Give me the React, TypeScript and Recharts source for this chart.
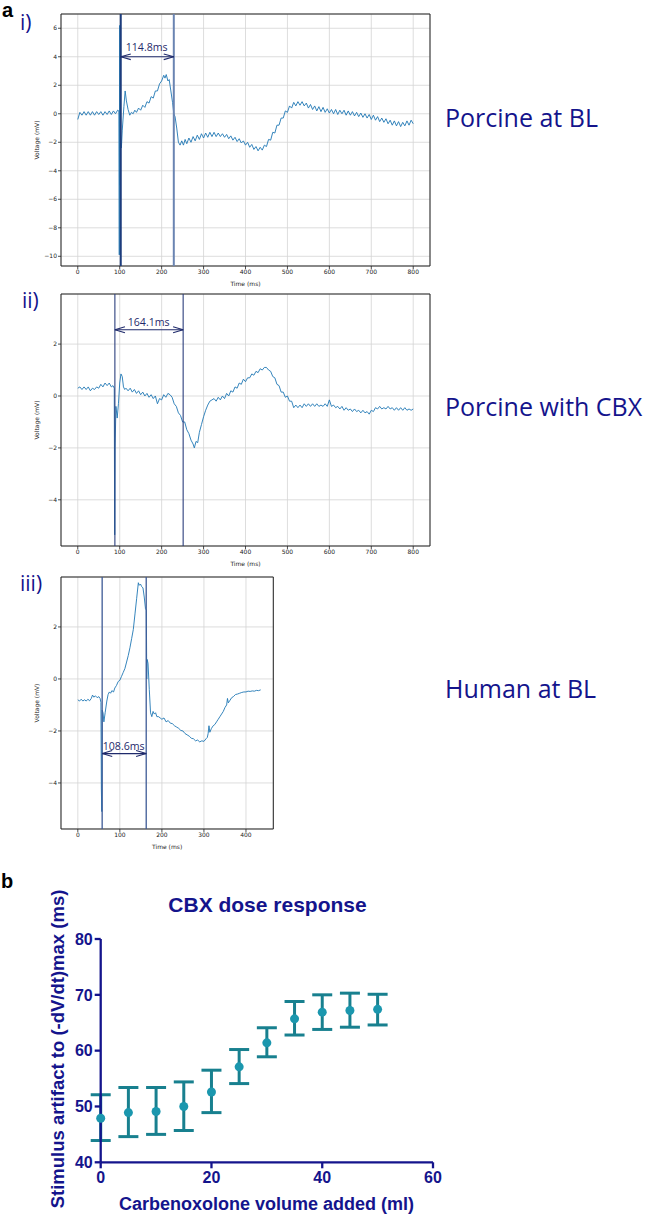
import React from 'react';
import {
  LineChart, Line, XAxis, YAxis, CartesianGrid, ReferenceLine, ReferenceArea,
  ScatterChart, Scatter, ErrorBar,
} from 'recharts';

const NAVY = '#14148c';
const TRACE = '#1f77b4';
const MPL_FONT = 'DejaVu Sans';

// ---- a) voltage traces, [time ms, voltage mV] ----
const porcineBL: [number, number][] = [
  [0,-0.4],[5,0.1],[10,-0.1],[15,0.15],[20,-0.1],[25,0.15],[30,-0.1],[35,0.15],[40,-0.1],[45,0.15],
  [50,-0.05],[55,0.15],[60,-0.1],[65,0.15],[70,-0.05],[75,0.2],[80,-0.05],[85,0.2],[90,0],[95,0.25],
  [98,0.2],[99,-9.9],[100,6.2],[101,-5],[102,-1.5],[104,-2.4],[106,-1.2],[110,0.5],[113,1.6],[116,0.9],
  [120,0.3],[124,-0.1],[128,0.1],[132,0],[136,0.25],[140,0.1],[145,0.4],[150,0.25],[155,0.6],[160,0.45],
  [165,0.85],[170,0.75],[175,1.2],[180,1.1],[185,1.6],[190,1.6],[195,2.1],[200,2.3],[205,2.7],[208,2.5],
  [211,2.75],[215,2.3],[218,2.4],[222,1.6],[226,0.8],[229,0],[232,-0.2],[236,-1.0],[240,-2.0],[244,-2.2],
  [248,-1.9],[252,-2.2],[256,-1.8],[260,-2.1],[265,-1.7],[270,-2.0],[275,-1.6],[280,-1.9],[285,-1.5],[290,-1.8],
  [295,-1.4],[300,-1.7],[305,-1.35],[310,-1.65],[315,-1.3],[320,-1.6],[325,-1.3],[330,-1.6],[335,-1.35],[340,-1.6],
  [345,-1.4],[350,-1.65],[355,-1.45],[360,-1.75],[365,-1.55],[370,-1.85],[375,-1.65],[380,-1.95],[385,-1.75],[390,-2.05],
  [395,-1.9],[400,-2.2],[405,-2.0],[410,-2.35],[415,-2.15],[420,-2.5],[425,-2.3],[430,-2.6],[435,-2.35],[440,-2.55],
  [445,-2.2],[450,-2.3],[455,-1.8],[460,-1.85],[465,-1.3],[470,-1.35],[475,-0.8],[480,-0.8],[485,-0.3],[490,-0.3],
  [495,0.2],[500,0.1],[505,0.55],[510,0.4],[515,0.8],[520,0.55],[525,0.85],[530,0.6],[535,0.85],[540,0.55],
  [545,0.75],[550,0.4],[555,0.65],[560,0.3],[565,0.55],[570,0.2],[575,0.5],[580,0.15],[585,0.45],[590,0.1],
  [595,0.35],[600,0.05],[605,0.3],[610,0],[615,0.3],[620,-0.05],[625,0.25],[630,0],[635,0.25],[640,-0.1],
  [645,0.2],[650,-0.1],[655,0.15],[660,-0.15],[665,0.1],[670,-0.2],[675,0.05],[680,-0.25],[685,0],[690,-0.3],
  [695,-0.05],[700,-0.4],[705,-0.1],[710,-0.45],[715,-0.2],[720,-0.55],[725,-0.3],[730,-0.6],[735,-0.35],[740,-0.7],
  [745,-0.45],[750,-0.8],[755,-0.5],[760,-0.85],[765,-0.55],[770,-0.9],[775,-0.6],[780,-0.85],[785,-0.5],[790,-0.8],
  [795,-0.45],[800,-0.7],
];

const porcineCBX: [number, number][] = [
  [0,0.3],[5,0.35],[10,0.25],[15,0.35],[20,0.25],[25,0.35],[30,0.2],[35,0.3],[40,0.25],[45,0.35],
  [50,0.3],[55,0.45],[60,0.35],[65,0.5],[70,0.4],[75,0.5],[80,0.35],[84,0.4],[87,0.3],[88,-5.35],
  [89,-2],[91,-0.4],[94,-0.85],[97,-0.3],[100,0.5],[103,0.85],[106,0.75],[109,0.35],[112,0.25],[115,0.3],
  [120,0.2],[125,0.3],[130,0.15],[135,0.25],[140,0.1],[145,0.2],[150,0.05],[155,0.15],[160,0],[165,0.1],
  [170,-0.05],[175,0.05],[180,-0.1],[185,0],[190,-0.3],[195,-0.1],[200,-0.15],[205,0.05],[210,-0.05],[215,0.1],
  [220,0.05],[225,-0.05],[230,-0.3],[235,-0.4],[240,-0.65],[245,-0.75],[250,-1.0],[255,-1.0],[260,-1.3],[265,-1.45],
  [270,-1.7],[275,-1.85],[278,-2.0],[282,-1.75],[286,-1.8],[290,-1.4],[295,-1.1],[300,-0.8],[305,-0.55],[310,-0.35],
  [315,-0.2],[320,-0.15],[325,-0.1],[330,-0.2],[335,-0.05],[340,-0.15],[345,0],[350,-0.1],[355,0.1],[360,0],
  [365,0.2],[370,0.15],[375,0.35],[380,0.3],[385,0.5],[390,0.45],[395,0.65],[400,0.55],[405,0.7],[410,0.7],
  [415,0.85],[420,0.8],[425,0.95],[430,0.9],[435,1.05],[440,1.0],[445,1.1],[450,1.1],[455,1.0],[460,0.95],
  [465,0.75],[470,0.7],[475,0.45],[480,0.4],[485,0.15],[490,0.15],[495,-0.05],[500,0],[505,-0.2],[510,-0.2],
  [515,-0.45],[520,-0.35],[525,-0.45],[530,-0.35],[535,-0.45],[540,-0.3],[545,-0.4],[550,-0.3],[555,-0.4],[560,-0.3],
  [565,-0.4],[570,-0.3],[575,-0.4],[580,-0.35],[585,-0.4],[590,-0.3],[595,-0.4],[600,-0.15],[605,-0.4],[610,-0.35],
  [615,-0.45],[620,-0.4],[625,-0.5],[630,-0.4],[635,-0.55],[640,-0.45],[645,-0.55],[650,-0.5],[655,-0.6],[660,-0.5],
  [665,-0.6],[670,-0.55],[675,-0.65],[680,-0.55],[685,-0.65],[690,-0.6],[695,-0.7],[700,-0.55],[705,-0.6],[710,-0.45],
  [715,-0.5],[720,-0.4],[725,-0.5],[730,-0.45],[735,-0.5],[740,-0.4],[745,-0.5],[750,-0.45],[755,-0.55],[760,-0.45],
  [765,-0.55],[770,-0.45],[775,-0.55],[780,-0.45],[785,-0.55],[790,-0.5],[795,-0.55],[800,-0.5],
];

const humanBL: [number, number][] = [
  [0,-0.8],[4,-0.85],[8,-0.78],[12,-0.85],[16,-0.8],[20,-0.85],[24,-0.78],[28,-0.84],[32,-0.75],[35,-0.62],
  [38,-0.7],[42,-0.65],[46,-0.72],[50,-0.68],[53,-0.75],[55,-0.9],[56,-4.2],[57,-5.1],[58,-1.2],[60,-1.3],
  [62,-1.65],[65,-1.3],[69,-0.85],[72,-0.6],[75,-0.5],[78,-0.55],[81,-0.45],[85,-0.5],[88,-0.35],[92,-0.25],
  [96,-0.1],[100,-0.05],[104,0.1],[108,0.25],[112,0.4],[116,0.65],[120,0.9],[124,1.2],[128,1.55],[132,1.9],
  [136,2.5],[140,3.1],[144,3.7],[146,3.6],[149,3.65],[152,3.55],[155,3.5],[158,3.15],[161,2.7],[163,2.65],
  [164,0.0],[165,0.75],[167,0.6],[170,-0.4],[173,-1.3],[176,-1.45],[179,-1.25],[182,-1.35],[185,-1.3],[188,-1.45],
  [192,-1.45],[196,-1.5],[200,-1.55],[205,-1.5],[210,-1.65],[215,-1.6],[220,-1.7],[225,-1.72],[230,-1.8],[235,-1.85],
  [240,-1.9],[245,-1.98],[250,-2.0],[255,-2.1],[260,-2.15],[265,-2.2],[270,-2.28],[275,-2.3],[280,-2.38],[285,-2.35],
  [290,-2.42],[295,-2.38],[300,-2.4],[305,-2.3],[308,-2.25],[310,-2.1],[312,-1.8],[314,-2.05],[318,-1.9],[322,-1.8],
  [326,-1.75],[330,-1.65],[334,-1.55],[338,-1.45],[342,-1.35],[346,-1.25],[350,-1.1],[354,-1.0],[356,-0.75],[358,-0.92],
  [362,-0.82],[366,-0.72],[370,-0.68],[375,-0.6],[380,-0.58],[385,-0.55],[390,-0.52],[395,-0.5],[400,-0.5],[405,-0.47],
  [410,-0.48],[415,-0.46],[420,-0.47],[425,-0.44],[430,-0.45],[435,-0.42],
];

const timeTicksLong = [0, 100, 200, 300, 400, 500, 600, 700, 800];
const timeTicksShort = [0, 100, 200, 300, 400];
const voltTicksWide = [-10, -8, -6, -4, -2, 0, 2, 4, 6];
const voltTicksNarrow = [-4, -2, 0, 2];

// cursor lines (ms) and measured interval arrows
const cursorsBL = [102.5, 229];
const cursorsCBX = [88.5, 251.3];
const cursorsHuman = [57.9, 162.7];
const arrowLevels = [4, 2.55, -2.87];

// ---- b) CBX dose response ----
const cbxVolume = [0, 5, 10, 15, 20, 25, 30, 35, 40, 45, 50];
const cbxMean = [47.9, 48.9, 49.1, 50.0, 52.6, 57.1, 61.4, 65.7, 66.9, 67.2, 67.4];
const cbxLow = [43.9, 44.6, 45.0, 45.7, 48.9, 54.1, 58.9, 62.8, 63.8, 64.2, 64.6];
const cbxHigh = [52.1, 53.4, 53.4, 54.4, 56.5, 60.2, 64.1, 68.8, 70.0, 70.3, 70.1];
const doseXTicks = [0, 20, 40, 60];
const doseYTicks = [40, 50, 60, 70, 80];

const minus = (v: number) => (v < 0 ? '\u2212' + Math.abs(v) : String(v));

type CursorStyle = { stroke: string; width: number };

function TracePanel(props: {
  trace: [number, number][];
  width: number;
  xDomain: [number, number];
  xTicks: number[];
  yDomain: [number, number];
  yTicks: number[];
  cursors: number[];
  cursorStyles: CursorStyle[];
  arrowY: number;
  headDy: number;
}) {
  const { trace, width, xDomain, xTicks, yDomain, yTicks, cursors, cursorStyles, arrowY, headDy } = props;
  const data = trace.map(([t, v]) => ({ t, v }));
  const [a, b] = cursors;
  const headDx = 24;
  const arrowColor = '#1f2a6b';
  const seg = (x1: number, y1: number, x2: number, y2: number, k: string) => (
    <ReferenceLine
      key={k}
      segment={[{ x: x1, y: y1 }, { x: x2, y: y2 }]}
      stroke={arrowColor}
      strokeWidth={1.1}
      ifOverflow="visible"
    />
  );
  const tickStyle = { fontSize: 6, fontFamily: MPL_FONT, fill: '#222' };
  return (
    <LineChart width={width} height={290} data={data} margin={{ top: 14, right: 10, bottom: 0, left: 0 }}>
      <CartesianGrid stroke="#d4d4d4" strokeWidth={0.8} />
      <XAxis
        dataKey="t"
        type="number"
        domain={xDomain}
        ticks={xTicks}
        allowDataOverflow
        height={24}
        axisLine={false}
        tickLine={{ stroke: '#222', strokeWidth: 0.8 }}
        tickSize={3}
        tickMargin={1}
        tick={tickStyle}
        label={{ value: 'Time (ms)', position: 'insideBottom', offset: 4, style: tickStyle }}
      />
      <YAxis
        type="number"
        domain={yDomain}
        ticks={yTicks}
        allowDataOverflow
        width={61}
        axisLine={false}
        tickLine={{ stroke: '#222', strokeWidth: 0.8 }}
        tickSize={3}
        tickMargin={1}
        tick={tickStyle}
        tickFormatter={minus}
        label={{
          value: 'Voltage (mV)', angle: -90, position: 'insideLeft', offset: 37,
          style: { ...tickStyle, textAnchor: 'middle' },
        }}
      />
      <ReferenceArea
        x1={xDomain[0]} x2={xDomain[1]} y1={yDomain[0]} y2={yDomain[1]}
        fill="none" stroke="#222" strokeWidth={1} ifOverflow="visible"
      />
      <Line dataKey="v" type="linear" stroke={TRACE} strokeWidth={0.9} dot={false} isAnimationActive={false} />
      {cursors.map((c, i) => (
        <ReferenceLine key={'c' + i} x={c} stroke={cursorStyles[i].stroke} strokeWidth={cursorStyles[i].width} />
      ))}
      {seg(a, arrowY, b, arrowY, 'shaft')}
      {seg(a, arrowY, a + headDx, arrowY + headDy, 'h1')}
      {seg(a, arrowY, a + headDx, arrowY - headDy, 'h2')}
      {seg(b, arrowY, b - headDx, arrowY + headDy, 'h3')}
      {seg(b, arrowY, b - headDx, arrowY - headDy, 'h4')}
    </LineChart>
  );
}

function DoseResponse() {
  const data = cbxVolume.map((x, i) => ({
    x,
    y: cbxMean[i],
    err: [cbxMean[i] - cbxLow[i], cbxHigh[i] - cbxMean[i]],
  }));
  const tick = { fontSize: 16, fontWeight: 700, fontFamily: 'Liberation Sans, Arial', fill: NAVY };
  const line = { stroke: NAVY, strokeWidth: 2.3 };
  return (
    <ScatterChart width={460} height={345} margin={{ top: 59, right: 27, bottom: 0, left: 0 }}>
      <XAxis
        dataKey="x" type="number" domain={[0, 60]} ticks={doseXTicks}
        height={62.7} axisLine={line} tickLine={line} tickSize={6} tickMargin={3} tick={tick}
      />
      <YAxis
        dataKey="y" type="number" domain={[40, 80]} ticks={doseYTicks}
        width={100.7} axisLine={line} tickLine={line} tickSize={6} tickMargin={2} tick={tick}
      />
      {/* error bars first, then the means drawn on top of them */}
      <Scatter
        data={data}
        fill="none"
        isAnimationActive={false}
        shape={() => <g />}
      >
        <ErrorBar dataKey="err" direction="y" width={10} strokeWidth={3} stroke="#18808f" />
      </Scatter>
      <Scatter
        data={data}
        fill="#1b97ae"
        isAnimationActive={false}
        shape={(p: any) => <circle cx={p.cx} cy={p.cy} r={4.5} fill="#1b97ae" />}
      />
    </ScatterChart>
  );
}

export default function App() {
  const label = { fontFamily: 'Open Sans', fill: NAVY } as const;
  const bold = { fontFamily: 'Liberation Sans, Arial', fontWeight: 700 } as const;
  return (
    <div style={{ position: 'absolute', left: 0, top: 0, width: 649, height: 1215, background: '#fff' }}>
      <div style={{ position: 'absolute', left: 0, top: 0 }}>
        <TracePanel
          trace={porcineBL} width={440} xDomain={[-40, 840]} xTicks={timeTicksLong}
          yDomain={[-10.68, 7.0]} yTicks={voltTicksWide} cursors={cursorsBL}
          cursorStyles={[{ stroke: '#1d3c7c', width: 2 }, { stroke: '#6a84b2', width: 2 }]}
          arrowY={arrowLevels[0]} headDy={0.2}
        />
      </div>
      <div style={{ position: 'absolute', left: 0, top: 280 }}>
        <TracePanel
          trace={porcineCBX} width={440} xDomain={[-40, 840]} xTicks={timeTicksLong}
          yDomain={[-5.78, 3.93]} yTicks={voltTicksNarrow} cursors={cursorsCBX}
          cursorStyles={[{ stroke: '#2c3f7d', width: 1.1 }, { stroke: '#2c3f7d', width: 1.1 }]}
          arrowY={arrowLevels[1]} headDy={0.115}
        />
      </div>
      <div style={{ position: 'absolute', left: 0, top: 563.3 }}>
        <TracePanel
          trace={humanBL} width={283.3} xDomain={[-40, 465]} xTicks={timeTicksShort}
          yDomain={[-5.77, 3.92]} yTicks={voltTicksNarrow} cursors={cursorsHuman}
          cursorStyles={[{ stroke: '#3d5a96', width: 1.3 }, { stroke: '#3d5a96', width: 1.3 }]}
          arrowY={arrowLevels[2]} headDy={0.115}
        />
      </div>
      <div style={{ position: 'absolute', left: 0, top: 880 }}>
        <DoseResponse />
      </div>
      <svg width={649} height={1215} style={{ position: 'absolute', left: 0, top: 0, pointerEvents: 'none' }}>
        <text x={2} y={17} fontSize={20} fill="#000" {...bold}>a</text>
        <text x={20} y={30} fontSize={21} {...label}>i)</text>
        <text x={22} y={308} fontSize={21} {...label}>ii)</text>
        <text x={20} y={591} fontSize={21} {...label}>iii)</text>
        <text x={1} y={888} fontSize={20} fill="#000" {...bold}>b</text>

        <text x={445} y={127} fontSize={25} {...label}>Porcine at BL</text>
        <text x={445} y={416} fontSize={25} {...label}>Porcine with CBX</text>
        <text x={445} y={698} fontSize={25} {...label}>Human at BL</text>

        <text x={146.7} y={51} fontSize={10.6} textAnchor="middle" fontFamily="Open Sans" fill="#1f2a6b">114.8ms</text>
        <text x={148.7} y={326} fontSize={10.6} textAnchor="middle" fontFamily="Open Sans" fill="#1f2a6b">164.1ms</text>
        <text x={123.7} y={750} fontSize={10.6} textAnchor="middle" fontFamily="Open Sans" fill="#1f2a6b">108.6ms</text>

        <text x={267.5} y={911.5} fontSize={21} textAnchor="middle" fill={NAVY} {...bold}>CBX dose response</text>
        <text x={266.5} y={1210} fontSize={18} textAnchor="middle" fill={NAVY} {...bold}>Carbenoxolone volume added (ml)</text>
        <text
          x={64.4} y={1049} fontSize={18.5} textAnchor="middle" fill={NAVY} {...bold}
          transform="rotate(-90 64.4 1049)"
        >
          Stimulus artifact to (-dV/dt)max (ms)
        </text>
      </svg>
    </div>
  );
}
